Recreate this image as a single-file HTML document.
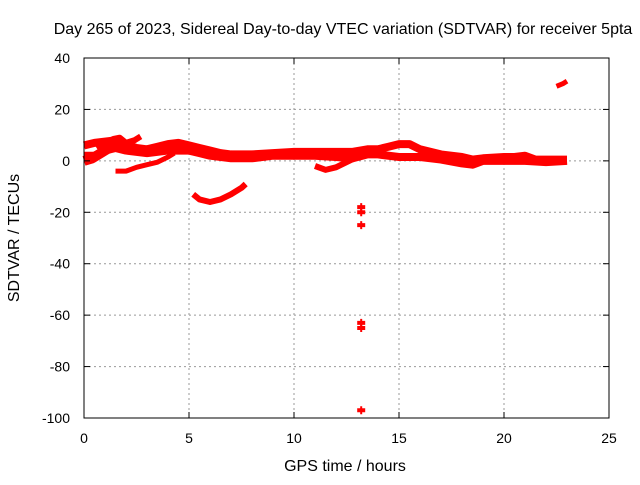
<!DOCTYPE html>
<html><head><meta charset="utf-8"><style>
body{margin:0;background:#fff}
svg text{font-family:"Liberation Sans",sans-serif;font-size:14px;fill:#000}
svg text.big{font-size:16px}
</style></head><body>
<svg id="chart" width="640" height="480">
<text class="big" x="343" y="34" text-anchor="middle">Day 265 of 2023, Sidereal Day-to-day VTEC variation (SDTVAR) for receiver 5pta</text>
<text class="big" x="345" y="471" text-anchor="middle">GPS time / hours</text>
<text class="big" transform="translate(19,238) rotate(-90)" text-anchor="middle">SDTVAR / TECUs</text>
<g id="grid"></g><g id="marks"></g>
<rect x="84" y="58" width="525" height="360" fill="none" stroke="#000"/>
<g id="ticks"></g>
</svg>
<script>
const xTicks=[0,5,10,15,20,25];
const yTicks=[40,20,0,-20,-40,-60,-80,-100];
const bandUpper=[[0,6],[0.5,7],[1,7.5],[1.5,8],[2,6.5],[2.5,5],[3,4.5],[3.5,5.5],[4,6.5],[4.5,7],[5,6],[5.5,5],[6,4],[6.5,3],[7,2.5],[7.5,2.5],[8,2.5],[9,3],[10,3.5],[11,3.5],[12,3.5],[12.8,3.5],[13.5,4.5],[14,4.5],[14.5,5.5],[15,6.5],[15.5,6.5],[16,4.5],[17,2.5],[18,1.5],[18.5,0.5],[19,1],[20,1.5],[20.5,1.5],[21,2],[21.5,0.5],[22,0.5],[23,0.5]];
const bandLower=[[0,2],[0.5,2],[1,4],[1.5,5],[2,4],[3,3],[4,4],[5,4],[5.5,3],[6,2],[7,1],[8,1],[9,2],[10,2],[11,2],[12,1.5],[12.8,1],[13.5,2.5],[14,2.5],[15,1.5],[16,1.5],[17,0.5],[18,-1],[18.5,-1.5],[19,0],[20,0],[21,0],[22,-0.5],[23,0]];
const startBlock=[[0,0],[0.4,1],[0.8,3],[1.2,5],[1.5,6]];
const upperWiggle=[[0.6,5],[1,7],[1.4,8.5],[1.7,9],[2,7],[2.4,8],[2.7,9.5]];
const lowArc=[[1.5,-4],[2,-4],[2.5,-2.5],[3,-1.5],[3.5,-0.5],[4,1.5],[4.3,3]];
const dipArc=[[5.2,-13],[5.5,-15],[6,-16],[6.5,-15],[7,-13],[7.5,-10.5],[7.7,-9]];
const dipArc2=[[11,-2],[11.5,-3.5],[12,-2.5],[12.5,-0.5],[13,1.5]];
const outliers=[[13.2,-18],[13.2,-20],[13.2,-25],[13.2,-63],[13.2,-65],[13.2,-97]];
const lateArc=[[22.5,29],[22.8,30],[23,31]];
const X=h=>84+h*21, Y=v=>58+(40-v)*360/140;
const ns="http://www.w3.org/2000/svg";
function mk(t,a,p){const e=document.createElementNS(ns,t);for(const k in a)e.setAttribute(k,a[k]);p.appendChild(e);return e;}
const grid=document.getElementById('grid'),ticks=document.getElementById('ticks'),marks=document.getElementById('marks');
xTicks.forEach(t=>{
 if(t>0&&t<25){const l=mk('line',{x1:X(t),x2:X(t),y1:58,y2:418,stroke:'#999','stroke-dasharray':'2,3'},grid);
 
 }
 mk('line',{x1:X(t),x2:X(t),y1:418,y2:412,stroke:'#000'},ticks);
 mk('line',{x1:X(t),x2:X(t),y1:58,y2:64,stroke:'#000'},ticks);
 const tx=mk('text',{x:X(t),y:443,'text-anchor':'middle'},ticks);tx.textContent=t;
 
 
});
yTicks.forEach(t=>{
 if(t<40&&t>-100){const l=mk('line',{x1:84,x2:609,y1:Y(t),y2:Y(t),stroke:'#999','stroke-dasharray':'2,3'},grid);
 
 }
 mk('line',{x1:84,x2:90,y1:Y(t),y2:Y(t),stroke:'#000'},ticks);
 mk('line',{x1:603,x2:609,y1:Y(t),y2:Y(t),stroke:'#000'},ticks);
 const tx=mk('text',{x:70,y:Y(t)+5,'text-anchor':'end'},ticks);tx.textContent=t;
 
 
});
function line(d,w,name){const p=mk('polyline',{points:d.map(q=>X(q[0])+','+Y(q[1])).join(' '),fill:'none',stroke:'#f00','stroke-width':w,'stroke-linejoin':'round','stroke-linecap':'butt'},marks);
 
 }
line(bandUpper,8,'band-upper');line(bandLower,8,'band-lower');line(startBlock,10,'start-block');line(upperWiggle,6,'upper-wiggle');
line(lowArc,5,'low-arc');line(dipArc,6,'dip-arc');line(dipArc2,6,'dip-arc-2');line(lateArc,5,'late-arc');
outliers.forEach(q=>{const g=mk('path',{d:`M${X(q[0])-4},${Y(q[1])-1}h8M${X(q[0])-4},${Y(q[1])+1}h8M${X(q[0])},${Y(q[1])-4}v8`,stroke:'#f00','stroke-width':2},marks);
 
 });
</script>
</body></html>
